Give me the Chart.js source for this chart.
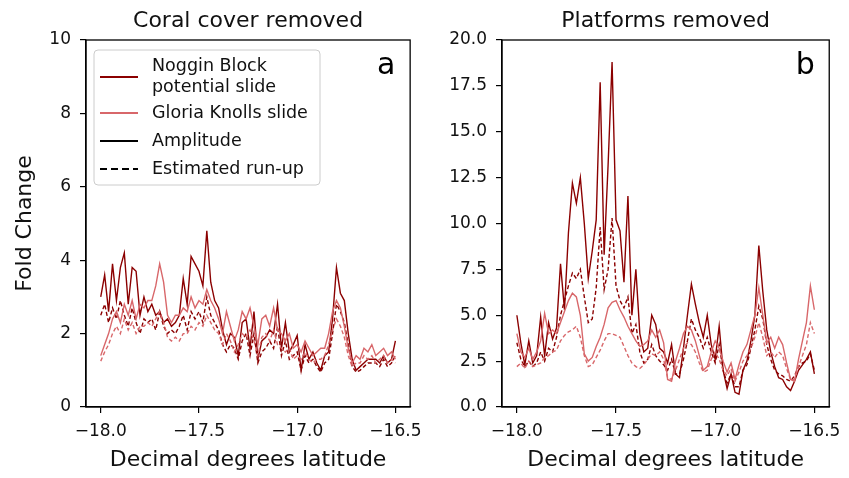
<!DOCTYPE html>
<html><head><meta charset="utf-8">
<script src="https://cdn.jsdelivr.net/npm/chart.js@4.4.0/dist/chart.umd.min.js"></script>
<style>
html,body{margin:0;padding:0;background:#fff;width:849px;height:478px;overflow:hidden}
#wa{position:absolute;left:0;top:0;width:430px;height:478px}
#wb{position:absolute;left:430px;top:0;width:419px;height:478px}
</style></head><body>
<div id="wa"><canvas id="ca"></canvas></div>
<div id="wb"><canvas id="cb"></canvas></div>
<script>
const latitudes = [
 -18.00,-17.98,-17.96,-17.94,-17.92,-17.90,-17.88,-17.86,-17.84,-17.82,
 -17.80,-17.78,-17.76,-17.74,-17.72,-17.70,-17.68,-17.66,-17.64,-17.62,
 -17.60,-17.58,-17.56,-17.54,-17.52,-17.50,-17.48,-17.46,-17.44,-17.42,
 -17.40,-17.38,-17.36,-17.34,-17.32,-17.30,-17.28,-17.26,-17.24,-17.22,
 -17.20,-17.18,-17.16,-17.14,-17.12,-17.10,-17.08,-17.06,-17.04,-17.02,
 -17.00,-16.98,-16.96,-16.94,-16.92,-16.90,-16.88,-16.86,-16.84,-16.82,
 -16.80,-16.78,-16.76,-16.74,-16.72,-16.70,-16.68,-16.66,-16.64,-16.62,
 -16.60,-16.58,-16.56,-16.54,-16.52,-16.50];

// Panel a: coral cover removed
const coralNogginAmp = [
 3.0,3.6,2.6,3.9,2.9,3.8,4.2,2.8,3.8,3.7,
 2.5,3.0,2.6,2.8,2.5,2.6,2.3,2.4,2.2,2.3,
 2.5,3.5,2.8,4.1,3.9,3.7,3.3,4.8,3.4,2.9,
 2.7,2.1,1.7,2.0,1.9,1.4,2.3,2.4,1.6,2.6,
 1.3,1.8,1.9,2.1,2.0,2.8,1.6,2.3,1.5,1.7,
 1.95,1.0,1.7,1.3,1.5,1.2,1.0,1.4,1.5,2.4,
 3.8,3.1,2.9,2.0,1.3,1.0,1.1,1.2,1.3,1.3,
 1.3,1.2,1.4,1.2,1.3,1.8];
const coralNogginRunup = [
 2.5,2.8,2.3,2.7,2.4,2.9,2.5,2.2,2.7,2.3,
 2.0,2.4,2.3,2.4,2.1,2.6,2.2,2.0,2.1,2.0,
 2.2,2.5,2.1,2.6,2.4,2.6,2.3,3.0,2.5,2.3,
 2.1,1.7,1.5,1.7,1.6,1.3,1.8,2.0,1.4,2.0,
 1.2,1.5,1.6,1.8,1.6,2.2,1.4,1.8,1.3,1.4,
 1.5,1.0,1.4,1.2,1.3,1.1,0.95,1.2,1.3,2.0,
 2.8,2.6,2.3,1.7,1.1,0.95,1.0,1.1,1.2,1.2,
 1.2,1.1,1.3,1.1,1.2,1.4];
const coralGloriaAmp = [
 1.4,1.7,2.0,2.4,2.6,2.3,2.8,2.5,2.9,2.4,
 2.8,2.7,2.9,2.9,3.3,3.9,3.4,2.5,2.3,2.5,
 2.5,2.7,2.6,3.0,2.7,2.9,2.8,3.2,2.9,2.7,
 2.4,2.0,2.6,2.2,1.8,2.1,2.6,2.4,2.7,2.2,
 1.7,2.4,2.5,2.2,2.7,2.1,2.0,1.8,2.0,1.6,
 1.7,1.5,1.8,1.6,1.4,1.5,1.6,1.6,2.0,2.6,
 2.9,2.7,2.2,1.6,1.2,1.4,1.3,1.6,1.5,1.7,
 1.4,1.5,1.6,1.4,1.5,1.3];
const coralGloriaRunup = [
 1.25,1.5,1.7,2.0,2.2,2.0,2.4,2.1,2.3,2.0,
 2.2,2.2,2.3,2.2,2.4,2.6,2.3,1.9,1.8,1.9,
 1.8,2.0,2.0,2.2,2.1,2.3,2.2,2.5,2.3,2.1,
 2.0,1.7,2.0,1.8,1.5,1.7,2.0,1.9,2.1,1.8,
 1.4,1.9,2.0,1.8,2.1,1.7,1.6,1.5,1.6,1.3,
 1.4,1.3,1.5,1.3,1.2,1.3,1.3,1.4,1.7,2.1,
 2.4,2.2,1.9,1.4,1.1,1.2,1.2,1.4,1.3,1.4,
 1.2,1.3,1.4,1.2,1.3,1.2];

// Panel b: platforms removed
const platNogginAmp = [
 5.0,3.5,2.3,3.6,2.4,2.8,4.9,2.8,4.6,3.7,
 4.3,7.8,5.3,9.5,12.2,11.1,12.5,10.0,7.0,8.5,
 10.2,17.7,8.3,13.2,18.8,10.2,9.6,6.8,11.5,5.0,
 7.5,4.0,3.0,3.2,5.0,4.5,3.2,3.0,2.4,3.4,
 1.8,1.6,3.2,5.0,6.7,5.6,4.6,3.8,5.0,3.4,
 2.6,4.4,2.0,1.0,1.8,0.8,0.7,2.0,2.5,3.6,
 5.0,8.8,6.3,4.2,3.0,2.2,1.6,1.5,1.1,0.9,
 1.4,2.0,2.3,2.6,3.0,1.8];
const platNogginRunup = [
 3.5,2.6,2.2,2.5,2.2,2.4,3.0,2.5,3.2,3.0,
 3.8,5.0,5.8,6.6,7.3,7.0,7.5,6.0,4.6,4.8,
 6.5,9.8,6.4,7.5,10.3,6.6,5.8,5.4,6.0,4.0,
 4.5,3.0,2.4,2.6,3.4,2.8,2.5,2.3,2.0,2.6,
 1.8,1.8,2.6,3.6,4.8,4.2,3.8,3.2,3.8,3.0,
 2.4,3.4,2.0,1.3,1.8,1.1,1.1,2.0,2.3,3.2,
 4.2,5.5,4.8,3.4,2.6,2.0,1.8,1.7,1.5,1.4,
 1.7,2.2,2.4,2.5,2.9,2.0];
const platGloriaAmp = [
 4.0,3.0,2.7,3.2,2.6,3.0,3.6,5.1,4.0,4.2,
 4.0,4.6,5.2,5.8,6.2,6.0,5.0,2.9,2.5,2.7,
 3.3,3.8,4.5,5.4,5.7,5.8,5.3,4.9,4.4,4.0,
 3.6,3.3,3.4,3.6,4.2,3.8,4.2,3.5,1.5,1.4,
 2.5,3.2,4.0,4.4,4.2,3.6,2.8,2.0,2.2,3.0,
 3.6,3.2,2.5,1.9,2.4,1.5,2.3,3.0,3.4,4.2,
 5.0,6.5,5.0,3.5,3.8,3.2,3.8,3.4,2.4,1.5,
 1.4,2.6,3.6,4.6,6.6,5.3];
const platGloriaRunup = [
 2.2,2.4,2.1,2.5,2.2,2.3,2.4,2.7,2.8,3.0,
 3.1,3.6,3.9,4.1,4.2,4.4,3.8,2.8,2.2,2.3,
 2.7,3.1,3.6,4.0,4.0,3.9,3.8,3.3,2.8,2.4,
 2.2,2.1,2.3,2.6,2.9,2.8,3.0,2.6,1.6,1.5,
 2.0,2.6,3.2,3.5,3.4,3.0,2.4,1.9,2.0,2.6,
 3.0,2.6,2.0,1.7,2.1,1.4,1.9,2.5,2.8,3.2,
 3.8,4.6,3.8,2.8,3.0,2.7,3.0,2.8,2.1,1.5,
 1.5,2.2,2.8,3.4,4.6,4.0];

// Tick values and labels
const xTickValues = [-18.0, -17.5, -17.0, -16.5];
const xTickLabels = ['\u221218.0', '\u221217.5', '\u221217.0', '\u221216.5'];
const yTickValuesA = [0, 2, 4, 6, 8, 10];
const yTickLabelsA = ['0', '2', '4', '6', '8', '10'];
const yTickValuesB = [0, 2.5, 5, 7.5, 10, 12.5, 15, 17.5, 20];
const yTickLabelsB = ['0.0', '2.5', '5.0', '7.5', '10.0', '12.5', '15.0', '17.5', '20.0'];

const seriesNames = ['Noggin Block potential slide', 'Gloria Knolls slide'];
const styleNames = ['Amplitude', 'Estimated run-up'];

const DARK = '#8b0000';
const LIGHT = '#d8676a';
const FONT = "'DejaVu Sans', sans-serif";
const TXT = '#111';

function pts(arr) { return latitudes.map((x, i) => ({x: x, y: arr[i]})); }

function ds(label, arr, color, dashed, order) {
  return {
    label: label, data: pts(arr), borderColor: color, backgroundColor: color,
    borderWidth: 1.4, borderDash: dashed ? [4, 2.5] : [], pointRadius: 0,
    tension: 0, fill: false, order: order
  };
}

const framePlugin = {
  id: 'frame',
  afterDraw(chart, args, opts) {
    const {ctx, chartArea: a} = chart;
    ctx.save();
    ctx.strokeStyle = '#000';
    ctx.lineWidth = 1.3;
    ctx.strokeRect(a.left, a.top, a.right - a.left, a.bottom - a.top);
    // panel title centred over the axes
    ctx.fillStyle = TXT;
    ctx.font = '22px ' + FONT;
    ctx.textAlign = 'center';
    ctx.textBaseline = 'middle';
    ctx.fillText(opts.title, (a.left + a.right) / 2, 21);
    // panel letter
    ctx.fillStyle = '#000';
    ctx.font = '30px ' + FONT;
    ctx.fillText(opts.letter, a.right - 24, 66);
    if (opts.legend) {
      const x0 = a.left + 8, y0 = 50, w = 226, h = 135;
      ctx.beginPath();
      if (ctx.roundRect) ctx.roundRect(x0, y0, w, h, 4); else ctx.rect(x0, y0, w, h);
      ctx.fillStyle = 'rgba(255,255,255,0.85)';
      ctx.fill();
      ctx.strokeStyle = '#cccccc';
      ctx.lineWidth = 1;
      ctx.stroke();
      const lx0 = x0 + 6, lx1 = x0 + 44, tx = x0 + 58;
      const rows = [
        {color: DARK, dash: [], y: 77, text: ['Noggin Block', 'potential slide'], ty: [66, 87]},
        {color: LIGHT, dash: [], y: 113, text: ['Gloria Knolls slide'], ty: [113]},
        {color: '#000', dash: [], y: 141, text: [styleNames[0]], ty: [141]},
        {color: '#000', dash: [7, 4], y: 169, text: [styleNames[1]], ty: [169]}
      ];
      ctx.font = '17.5px ' + FONT;
      ctx.textAlign = 'left';
      ctx.textBaseline = 'middle';
      rows.forEach(r => {
        ctx.beginPath();
        ctx.setLineDash(r.dash);
        ctx.strokeStyle = r.color;
        ctx.lineWidth = 2;
        ctx.moveTo(lx0, r.y);
        ctx.lineTo(lx1, r.y);
        ctx.stroke();
        ctx.setLineDash([]);
        ctx.fillStyle = TXT;
        r.text.forEach((t, k) => ctx.fillText(t, tx, r.ty[k]));
      });
    }
    ctx.restore();
  }
};

function makeChart(id, cfg) {
  return new Chart(document.getElementById(id), {
    type: 'line',
    data: {
      datasets: [
        ds(seriesNames[0] + ' ' + styleNames[0], cfg.nAmp, DARK, false, 4),
        ds(seriesNames[0] + ' ' + styleNames[1], cfg.nRun, DARK, true, 3),
        ds(seriesNames[1] + ' ' + styleNames[0], cfg.gAmp, LIGHT, false, 2),
        ds(seriesNames[1] + ' ' + styleNames[1], cfg.gRun, LIGHT, true, 1)
      ]
    },
    plugins: [framePlugin],
    options: {
      responsive: true, maintainAspectRatio: false, animation: false,
      events: [],
      layout: {padding: {left: 0, right: cfg.padRight, top: 40, bottom: 0}},
      plugins: {
        legend: {display: false},
        tooltip: {enabled: false},
        title: {display: false},
        frame: {letter: cfg.letter, legend: cfg.legend, title: cfg.title}
      },
      scales: {
        x: {
          type: 'linear', min: -18.075, max: -16.425,
          afterBuildTicks: s => { s.ticks = xTickValues.map(v => ({value: v})); },
          afterFit: s => { s.height = 71; },
          grid: {drawOnChartArea: false, drawTicks: true, tickLength: 6, color: '#000', lineWidth: 1.2},
          border: {display: true, color: '#000', width: 1.3},
          ticks: {
            autoSkip: false, maxRotation: 0, padding: 8, color: TXT,
            font: {family: FONT, size: 17},
            callback: (v, i) => xTickLabels[i]
          },
          title: {
            display: true, text: 'Decimal degrees latitude', color: TXT,
            font: {family: FONT, size: 22, lineHeight: 1.2},
            padding: {top: 0, bottom: 5}
          }
        },
        y: {
          type: 'linear', min: cfg.yMin, max: cfg.yMax,
          afterBuildTicks: s => { s.ticks = cfg.yTicks.map(v => ({value: v})); },
          afterFit: s => { s.width = cfg.yWidth; },
          grid: {drawOnChartArea: false, drawTicks: true, tickLength: 6, color: '#000', lineWidth: 1.2},
          border: {display: true, color: '#000', width: 1.3},
          ticks: {
            autoSkip: false, padding: cfg.yPad, color: TXT,
            font: {family: FONT, size: 17},
            callback: (v, i) => cfg.yLabels[i]
          },
          title: {
            display: cfg.yTitle, text: 'Fold Change', color: TXT,
            font: {family: FONT, size: 22, lineHeight: 1.2},
            padding: {top: 12, bottom: 0}
          }
        }
      }
    }
  });
}

makeChart('ca', {
  nAmp: coralNogginAmp, nRun: coralNogginRunup, gAmp: coralGloriaAmp, gRun: coralGloriaRunup,
  title: 'Coral cover removed', letter: 'a', legend: true, padRight: 12,
  yMin: 0, yMax: 10, yTicks: yTickValuesA, yLabels: yTickLabelsA, yWidth: 86, yPad: 9, yTitle: true
});
makeChart('cb', {
  nAmp: platNogginAmp, nRun: platNogginRunup, gAmp: platGloriaAmp, gRun: platGloriaRunup,
  title: 'Platforms removed', letter: 'b', legend: false, padRight: 13,
  yMin: 0, yMax: 20, yTicks: yTickValuesB, yLabels: yTickLabelsB, yWidth: 72, yPad: 9, yTitle: false
});
</script>
</body></html>
